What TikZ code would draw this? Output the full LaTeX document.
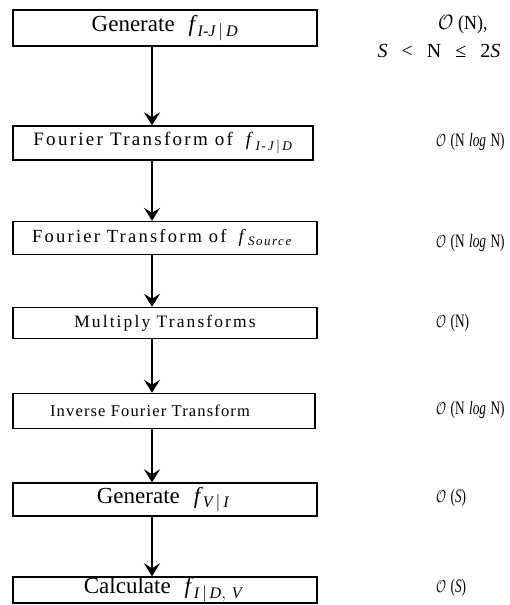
\documentclass[tikz,border=0pt]{standalone}
\usepackage{amsmath}
\usepackage{graphicx}
\usepackage{fontspec}
\setmainfont{Liberation Serif}
\newfontfamily\spacedfont[LetterSpace=12]{Liberation Serif}
\newfontfamily\spacedfontb[LetterSpace=7]{Liberation Serif}
\usetikzlibrary{arrows.meta}
\newcommand{\fsub}[1]{\textit{f}$_{#1}$}
\newcommand{\cond}[1]{\scalebox{0.7}[1]{#1}}
\tikzset{
  boxnode/.style={draw, line width=1.4pt, inner sep=0pt, minimum width=304pt, minimum height=34pt, fill=white},
  gentext/.style={font=\fontsize{23}{27}\selectfont},
  sptext/.style={font=\fontsize{18.5}{22}\spacedfont},
  cplx/.style={anchor=west, font=\fontsize{19}{22}\selectfont, inner sep=0pt},
  arr/.style={line width=1.4pt, -{Stealth[length=13pt,width=16pt,inset=5pt]}}
}
\begin{document}
\begin{tikzpicture}[x=1pt,y=-1pt]
\useasboundingbox (0,0) rectangle (509,605);
\coordinate (ax) at (152,0);
\node[boxnode, gentext, minimum height=36pt] (b1) at (165,28) {Generate\hspace{14pt}\fsub{\textit{I-J}\,|\,\textit{D}}};
\node[boxnode, sptext, font=\fontsize{19}{23}\spacedfont, minimum width=300pt] (b2) at (163,143) {Fourier Transform of\hspace{13pt}\fsub{\textit{I-J}\,|\,\textit{D}}};
\node[boxnode, sptext, minimum height=33pt] (b3) at (165,238) {Fourier Transform of\hspace{12pt}\fsub{\textit{Source}}\hspace*{6pt}};
\node[boxnode, sptext, font=\fontsize{17.5}{21}\spacedfont, minimum height=31pt] (b4) at (165,323) {Multiply Transforms};
\node[boxnode, sptext, font=\fontsize{16.5}{20}\spacedfontb, minimum width=302pt, minimum height=35pt] (b5) at (164,411) {Inverse Fourier Transform\hspace*{28pt}};
\node[boxnode, gentext, minimum height=33pt] (b6) at (165,499.5) {Generate\hspace{14pt}\fsub{\textit{V}\,|\,\textit{I}}\hspace*{4pt}};
\node[boxnode, gentext, minimum height=26pt] (b7) at (165,590) {Calculate\hspace{14pt}\fsub{\textit{I}\,|\,\textit{D},\ \textit{V}}\hspace*{4pt}};

\draw[arr] (b1.south -| ax) -- (b2.north -| ax);
\draw[arr] (b2.south -| ax) -- (b3.north -| ax);
\draw[arr] (b3.south -| ax) -- (b4.north -| ax);
\draw[arr] (b4.south -| ax) -- (b5.north -| ax);
\draw[arr] (b5.south -| ax) -- (b6.north -| ax);
\draw[arr] (b6.south -| ax) -- (b7.north -| ax);

\node[cplx, font=\fontsize{20}{24}\selectfont] (c1) at (438,25) {\scalebox{0.9}[1]{$\mathcal{O}$ (N),}};
\node[cplx, anchor=center, font=\fontsize{20}{24}\selectfont] (c1b) at (439,51) {\textit{S}\hspace{14pt}<\hspace{14pt}N\hspace{14pt}≤\hspace{14pt}2\textit{S}};
\node[cplx] (c2) at (436,142) {\cond{$\mathcal{O}$\,\,(N\,\,\textit{log}\,\,N)}};
\node[cplx] (c3) at (436,243) {\cond{$\mathcal{O}$\,\,(N\,\,\textit{log}\,\,N)}};
\node[cplx] (c4) at (436,323) {\cond{$\mathcal{O}$\,\,(N)}};
\node[cplx] (c5) at (436,410) {\cond{$\mathcal{O}$\,\,(N\,\,\textit{log}\,\,N)}};
\node[cplx] (c6) at (436,498) {\cond{$\mathcal{O}$\,\,(\textit{S})}};
\node[cplx] (c7) at (436,588) {\cond{$\mathcal{O}$\,\,(\textit{S})}};
\end{tikzpicture}
\end{document}
